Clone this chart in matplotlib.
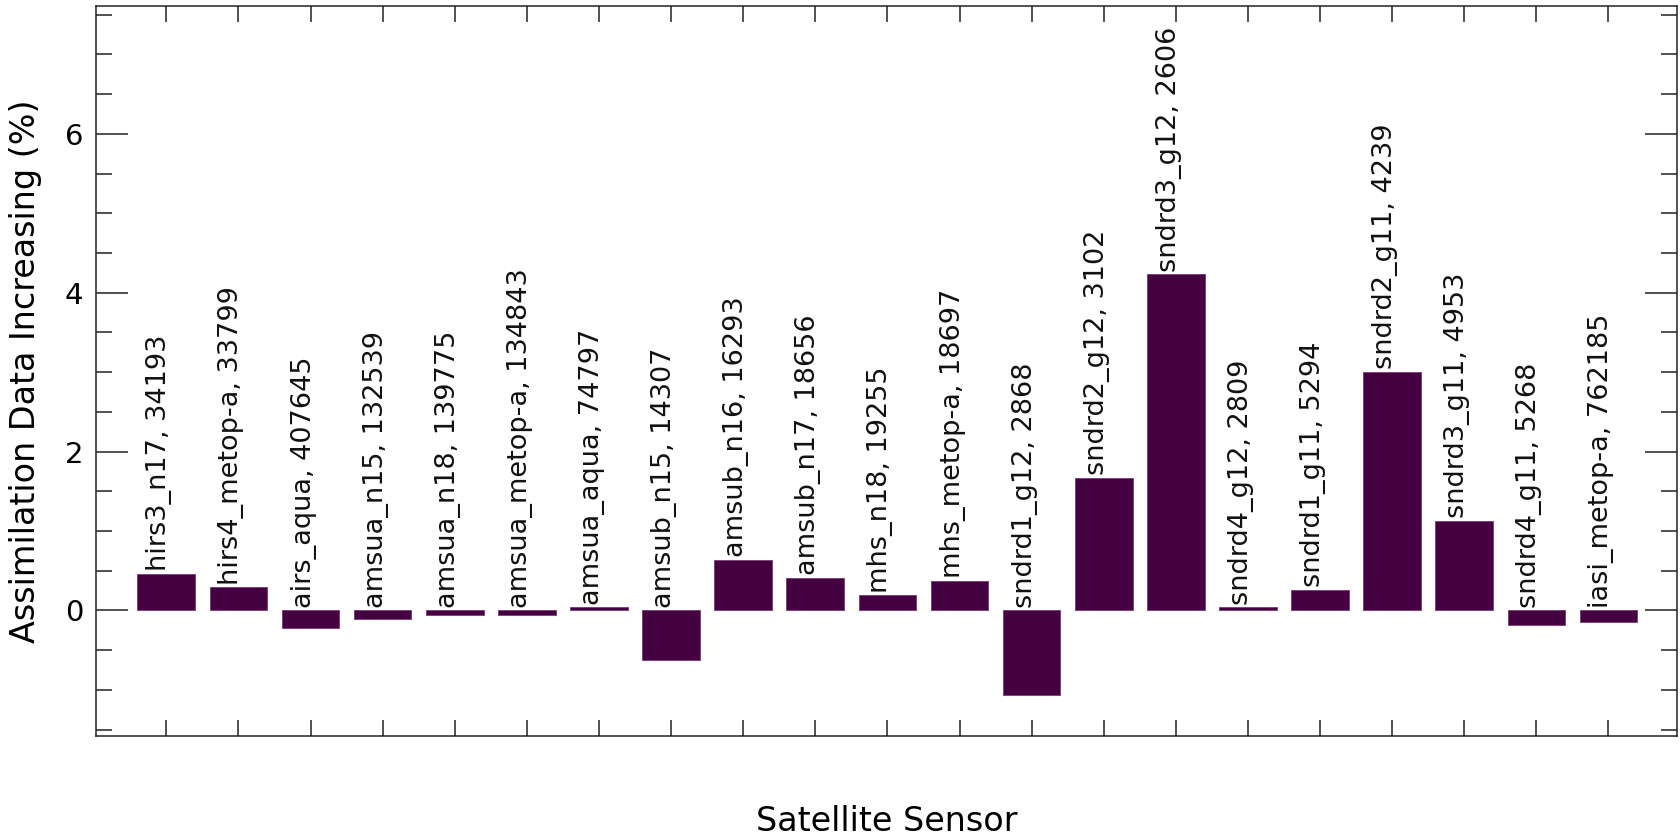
import matplotlib
matplotlib.use("Agg")
import matplotlib.pyplot as plt
from matplotlib.ticker import MultipleLocator, NullFormatter, FixedLocator

sensors = ["hirs3_n17", "hirs4_metop-a", "airs_aqua", "amsua_n15", "amsua_n18",
           "amsua_metop-a", "amsua_aqua", "amsub_n15", "amsub_n16", "amsub_n17",
           "mhs_n18", "mhs_metop-a", "sndrd1_g12", "sndrd2_g12", "sndrd3_g12",
           "sndrd4_g12", "sndrd1_g11", "sndrd2_g11", "sndrd3_g11", "sndrd4_g11",
           "iasi_metop-a"]
counts = [34193, 33799, 407645, 132539, 139775, 134843, 74797, 14307, 16293, 18656,
          19255, 18697, 2868, 3102, 2606, 2809, 5294, 4239, 4953, 5268, 762185]
increase = [0.46, 0.29, -0.22, -0.11, -0.055, -0.055, 0.038, -0.62, 0.64, 0.41,
            0.19, 0.37, -1.06, 1.67, 4.23, 0.04, 0.26, 3.00, 1.13, -0.18, -0.15]

plt.rcParams['font.family'] = ['DejaVu Sans']

fig = plt.figure(figsize=(16.8, 8.35), dpi=100)
ax = fig.add_axes([96/1680, 1 - 736/835, (1677-96)/1680, (736-6)/835])

x = list(range(len(sensors)))
ax.bar(x, increase, width=0.8, color='#450040', edgecolor='#7a3a78', linewidth=0.6)

for xi, v, s, c in zip(x, increase, sensors, counts):
    ystart = max(v, 0.0)
    ax.annotate(f"{s}, {c}", xy=(xi, ystart), xytext=(0, 2), textcoords='offset points',
                rotation=90, rotation_mode='anchor', ha='left', va='baseline',
                fontsize=19.5, color='#111111')

ax.set_xlim(-0.975, 20.95)
ax.set_ylim(-1.58, 7.61)

ax.xaxis.set_major_locator(FixedLocator(x))
ax.xaxis.set_major_formatter(NullFormatter())
ax.yaxis.set_major_locator(MultipleLocator(2))
ax.yaxis.set_minor_locator(MultipleLocator(0.5))

ax.tick_params(axis='x', which='major', direction='in', length=11.5, width=1.1,
               top=True, bottom=True, color='#222222')
ax.tick_params(axis='y', which='major', direction='in', length=23, width=1.1,
               left=True, right=True, labelsize=21, pad=9, color='#222222')
ax.tick_params(axis='y', which='minor', direction='in', length=11.5, width=1.1,
               left=True, right=True, color='#222222')

for sp in ax.spines.values():
    sp.set_linewidth(1.1)
    sp.set_color('#222222')

ax.set_xlabel("Satellite Sensor", fontsize=24)
ax.xaxis.set_label_coords(0.5, -0.095)
ax.set_ylabel("Assimilation Data Increasing (%)", fontsize=24)
ax.yaxis.set_label_coords(-0.034, 0.5)

fig.savefig("out.png", dpi=100)
